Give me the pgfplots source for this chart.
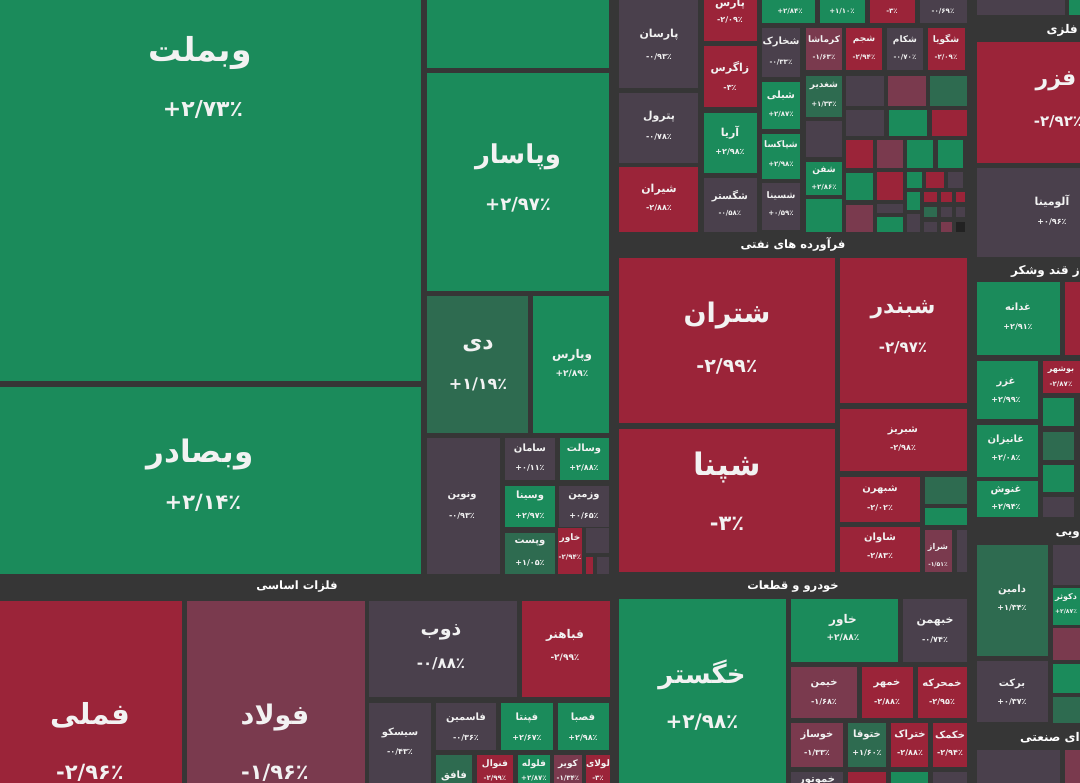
\documentclass[border=0pt]{standalone}
\usepackage{pgfplots}
\pgfplotsset{compat=1.18}
\usepackage{fontspec}
\TeXXeTstate=1
\newfontfamily\arabicfont[Script=Arabic]{DejaVu Sans}
\newfontfamily\latfont{DejaVu Sans}
\definecolor{bg}{HTML}{363636}
\definecolor{G}{HTML}{1B8B5B}
\definecolor{DG}{HTML}{2E6B50}
\definecolor{R}{HTML}{9B2439}
\definecolor{M}{HTML}{7A3A4E}
\definecolor{Gy}{HTML}{4A404C}
\definecolor{K}{HTML}{222222}
\definecolor{txt}{HTML}{F2F2F2}
\newcommand{\tile}[5]{\addplot[draw=none, fill=#5] coordinates {(#1,#2) (#3,#2) (#3,#4) (#1,#4)} -- cycle;}
\newcommand{\nm}[4]{\node[inner sep=0pt, text=txt, font=\arabicfont\bfseries\fontsize{#3}{#3}\selectfont] at (axis cs:#1,#2) {#4};}
\newcommand{\pc}[5]{\node[inner sep=0pt, text=txt, font=\arabicfont\bfseries\fontsize{#3}{#3}\selectfont] at (axis cs:#1,#2) {{\latfont\bfseries #4}#5};}
\newcommand{\hdr}[3]{\node[inner sep=0pt, text=white, font=\arabicfont\bfseries\fontsize{11.5}{12}\selectfont] at (axis cs:#1,#2) {#3};}
\newcommand{\hdre}[3]{\node[anchor=east, inner sep=0pt, text=white, font=\arabicfont\bfseries\fontsize{12}{12}\selectfont] at (axis cs:#1,#2) {#3};}
\begin{document}
\begin{tikzpicture}
\begin{axis}[width=1080pt, height=783pt, scale only axis, xmin=0, xmax=1080, ymin=0, ymax=783, y dir=reverse, hide axis, clip=true, no markers]
\coordinate (SW) at (axis cs:0,783);
\coordinate (NE) at (axis cs:1080,0);
\tile{0}{0}{1080}{783}{bg}
% left banks
\tile{0}{0}{421}{381}{G}
\tile{0}{387}{421}{574}{G}
% basic metals
\tile{0}{601}{182}{783}{R}
\tile{187}{601}{365}{783}{M}
\tile{369}{601}{517}{697}{Gy}
\tile{522}{601}{610}{697}{R}
\tile{369}{703}{431}{783}{Gy}
\tile{436}{703}{496}{750}{Gy}
\tile{501}{703}{553}{750}{G}
\tile{558}{703}{609}{750}{G}
\tile{436}{755}{472}{783}{DG}
\tile{477}{755}{513}{783}{R}
\tile{518}{755}{550}{783}{G}
\tile{554}{755}{582}{783}{M}
\tile{586}{755}{610}{783}{R}
% column 2
\tile{427}{0}{609}{68}{G}
\tile{427}{73}{609}{291}{G}
\tile{427}{296}{528}{433}{DG}
\tile{533}{296}{609}{433}{G}
\tile{427}{438}{500}{574}{Gy}
\tile{505}{438}{555}{480}{Gy}
\tile{560}{438}{609}{480}{G}
\tile{505}{486}{555}{527}{G}
\tile{559}{486}{609}{527}{Gy}
\tile{505}{533}{555}{574}{DG}
\tile{558}{528}{582}{574}{R}
\tile{586}{528}{609}{553}{Gy}
\tile{586}{557}{593}{574}{R}
\tile{597}{557}{609}{574}{Gy}
% column 3 top
\tile{619}{0}{698}{88}{Gy}
\tile{619}{93}{698}{163}{Gy}
\tile{619}{167}{698}{232}{R}
\tile{704}{0}{757}{41}{R}
\tile{704}{46}{757}{107}{R}
\tile{704}{113}{757}{173}{G}
\tile{704}{178}{757}{232}{Gy}
\tile{762}{0}{815}{23}{G}
\tile{762}{28}{800}{77}{Gy}
\tile{762}{82}{800}{129}{G}
\tile{762}{134}{800}{179}{G}
\tile{762}{183}{800}{230}{Gy}
\tile{820}{0}{865}{23}{G}
\tile{870}{0}{915}{23}{R}
\tile{920}{0}{967}{23}{Gy}
\tile{806}{28}{842}{70}{M}
\tile{846}{28}{882}{70}{R}
\tile{887}{28}{923}{70}{Gy}
\tile{928}{28}{965}{70}{R}
\tile{806}{76}{842}{117}{DG}
\tile{806}{121}{842}{157}{Gy}
\tile{806}{162}{842}{195}{G}
\tile{806}{199}{842}{232}{G}
\tile{846}{76}{884}{106}{Gy}
\tile{888}{76}{926}{106}{M}
\tile{930}{76}{967}{106}{DG}
\tile{846}{110}{884}{136}{Gy}
\tile{889}{110}{927}{136}{G}
\tile{932}{110}{967}{136}{R}
\tile{846}{140}{873}{168}{R}
\tile{877}{140}{903}{168}{M}
\tile{907}{140}{933}{168}{G}
\tile{938}{140}{963}{168}{G}
\tile{846}{173}{873}{200}{G}
\tile{877}{172}{903}{200}{R}
\tile{907}{172}{922}{188}{G}
\tile{926}{172}{944}{188}{R}
\tile{948}{172}{963}{188}{Gy}
\tile{846}{205}{873}{232}{M}
\tile{877}{204}{903}{213}{Gy}
\tile{877}{217}{903}{232}{G}
\tile{907}{192}{920}{210}{G}
\tile{924}{192}{937}{202}{R}
\tile{941}{192}{952}{202}{R}
\tile{956}{192}{965}{202}{R}
\tile{907}{214}{920}{232}{Gy}
\tile{924}{207}{937}{217}{DG}
\tile{941}{207}{952}{217}{Gy}
\tile{956}{207}{965}{217}{Gy}
\tile{924}{222}{937}{232}{Gy}
\tile{941}{222}{952}{232}{M}
\tile{956}{222}{965}{232}{K}
% petroleum products
\tile{619}{258}{835}{423}{R}
\tile{619}{429}{835}{572}{R}
\tile{840}{258}{967}{403}{R}
\tile{840}{409}{967}{471}{R}
\tile{840}{477}{920}{522}{R}
\tile{840}{527}{920}{572}{R}
\tile{925}{477}{967}{504}{DG}
\tile{925}{508}{967}{525}{G}
\tile{925}{530}{952}{572}{M}
\tile{957}{530}{967}{572}{Gy}
% automotive
\tile{619}{599}{786}{783}{G}
\tile{791}{599}{898}{662}{G}
\tile{903}{599}{967}{662}{Gy}
\tile{791}{667}{857}{718}{M}
\tile{862}{667}{913}{718}{R}
\tile{918}{667}{967}{718}{R}
\tile{791}{723}{843}{767}{M}
\tile{848}{723}{886}{767}{DG}
\tile{891}{723}{928}{767}{R}
\tile{933}{723}{967}{767}{R}
\tile{791}{772}{843}{783}{Gy}
\tile{848}{772}{886}{783}{R}
\tile{891}{772}{928}{783}{G}
\tile{933}{772}{967}{783}{Gy}
% right column
\tile{977}{0}{1065}{15}{Gy}
\tile{1069}{0}{1080}{15}{G}
\tile{977}{42}{1080}{163}{R}
\tile{977}{168}{1080}{257}{Gy}
\tile{977}{282}{1060}{355}{G}
\tile{1065}{282}{1080}{355}{R}
\tile{977}{361}{1038}{419}{G}
\tile{1043}{361}{1080}{393}{R}
\tile{1043}{398}{1074}{426}{G}
\tile{977}{425}{1038}{477}{G}
\tile{1043}{432}{1074}{460}{DG}
\tile{1043}{465}{1074}{492}{G}
\tile{977}{481}{1038}{517}{G}
\tile{1043}{497}{1074}{517}{Gy}
\tile{977}{545}{1048}{656}{DG}
\tile{1053}{545}{1080}{585}{Gy}
\tile{1053}{588}{1080}{625}{G}
\tile{1053}{628}{1080}{660}{M}
\tile{977}{661}{1048}{722}{Gy}
\tile{1053}{664}{1080}{693}{G}
\tile{1053}{697}{1080}{723}{DG}
\tile{977}{750}{1060}{783}{Gy}
\tile{1065}{750}{1080}{783}{M}
% ---------- headers
\hdr{297}{587}{\beginR فلزات اساسی\endR}
\hdr{793}{244}{\beginR فرآورده های نفتی\endR}
\hdr{793}{587}{\beginR خودرو و قطعات\endR}
\hdre{1078}{30}{\beginR فلزی\endR}
\hdre{1080}{271}{\beginR ز قند وشکر\endR}
\hdre{1080}{535}{\beginR ویی\endR}
\hdre{1080}{738}{\beginR ای صنعتی\endR}
% ---------- labels
\nm{200}{53}{33}{وبملت} \pc{203}{110}{22}{+}{۲/۷۳٪}
\nm{200}{455}{31}{وبصادر} \pc{203}{503}{21}{+}{۲/۱۴٪}
\nm{518}{157}{26}{وپاسار} \pc{518}{205}{18}{+}{۲/۹۷٪}
\nm{478}{346}{22}{دی} \pc{478}{384}{16}{+}{۱/۱۹٪}
\nm{572}{355}{12}{وپارس} \pc{572}{374}{9}{+}{۲/۸۹٪}
\nm{530}{449}{10}{سامان} \pc{530}{468}{8}{+}{۰/۱۱٪}
\nm{584}{449}{10}{وسالت} \pc{584}{468}{8}{+}{۲/۸۸٪}
\nm{530}{496}{10}{وسینا} \pc{530}{516}{8}{+}{۲/۹۷٪}
\nm{584}{496}{10}{وزمین} \pc{584}{516}{8}{+}{۰/۶۵٪}
\nm{462}{496}{10}{ونوین} \pc{462}{516}{8}{-}{۰/۹۳٪}
\nm{530}{543}{10}{وپست} \pc{530}{563}{8}{+}{۱/۰۵٪}
\nm{570}{538}{9}{خاور} \pc{570}{557}{7}{-}{۲/۹۴٪}
\nm{90}{715}{29}{فملی} \pc{90}{773}{21}{-}{۲/۹۶٪}
\nm{275}{718}{27}{فولاد} \pc{275}{773}{21}{-}{۱/۹۶٪}
\nm{441}{632}{19}{ذوب} \pc{441}{664}{15}{-}{۰/۸۸٪}
\nm{565}{635}{12}{فباهنر} \pc{565}{658}{9}{-}{۲/۹۹٪}
\nm{400}{733}{10}{سیسکو} \pc{400}{752}{8}{-}{۰/۴۳٪}
\nm{466}{718}{10}{فاسمین} \pc{466}{738}{8}{-}{۰/۳۶٪}
\nm{527}{718}{10}{فپنتا} \pc{527}{738}{8}{+}{۲/۶۷٪}
\nm{583}{718}{10}{فصبا} \pc{583}{738}{8}{+}{۲/۹۸٪}
\nm{454}{776}{10}{فافق}
\nm{495}{764}{9}{فنوال} \pc{495}{778}{7}{-}{۲/۹۹٪}
\nm{534}{764}{9}{فلوله} \pc{534}{778}{7}{+}{۲/۸۷٪}
\nm{568}{764}{9}{کویر} \pc{568}{778}{7}{-}{۱/۳۴٪}
\nm{598}{764}{9}{لولای} \pc{598}{778}{7}{-}{۳٪}
% column 3
\nm{659}{35}{11}{پارسان} \pc{659}{57}{8}{-}{۰/۹۳٪}
\nm{659}{117}{11}{پترول} \pc{659}{137}{8}{-}{۰/۷۸٪}
\nm{659}{190}{11}{شیران} \pc{659}{208}{8}{-}{۲/۸۸٪}
\nm{730}{4}{11}{پارس} \pc{730}{20}{8}{-}{۲/۰۹٪}
\nm{730}{68}{11}{زاگرس} \pc{730}{88}{8}{-}{۳٪}
\nm{730}{133}{11}{آریا} \pc{730}{152}{8}{+}{۲/۹۸٪}
\nm{730}{196}{10}{شگستر} \pc{730}{213}{7}{-}{۰/۵۸٪}
\pc{790}{11}{7}{+}{۲/۸۴٪}
\nm{781}{42}{10}{شخارک} \pc{781}{62}{7}{-}{۰/۳۳٪}
\nm{781}{96}{10}{شبلی} \pc{781}{114}{7}{+}{۲/۸۷٪}
\nm{781}{145}{9}{شپاکسا} \pc{781}{164}{7}{+}{۲/۹۸٪}
\nm{781}{196}{9}{شسینا} \pc{781}{213}{7}{+}{۰/۵۹٪}
\pc{842}{11}{7}{+}{۱/۱۰٪}
\pc{892}{11}{7}{-}{۳٪}
\pc{943}{11}{7}{-}{۰/۶۹٪}
\nm{824}{40}{9}{کرماشا} \pc{824}{57}{7}{-}{۱/۶۳٪}
\nm{864}{40}{9}{شجم} \pc{864}{57}{7}{-}{۲/۹۴٪}
\nm{905}{40}{9}{شکام} \pc{905}{57}{7}{-}{۰/۷۰٪}
\nm{946}{40}{9}{شگویا} \pc{946}{57}{7}{-}{۲/۰۹٪}
\nm{824}{86}{9}{شغدیر} \pc{824}{104}{7}{+}{۱/۳۳٪}
\nm{824}{171}{9}{شفن} \pc{824}{187}{7}{+}{۲/۸۶٪}
% petroleum
\nm{727}{316}{27}{شتران} \pc{727}{366}{19}{-}{۲/۹۹٪}
\nm{727}{468}{31}{شپنا} \pc{727}{524}{21}{-}{۳٪}
\nm{903}{310}{22}{شبندر} \pc{903}{348}{15}{-}{۲/۹۷٪}
\nm{903}{431}{10}{شبریز} \pc{903}{448}{8}{-}{۲/۹۸٪}
\nm{880}{490}{10}{شبهرن} \pc{880}{508}{8}{-}{۲/۰۲٪}
\nm{880}{538}{10}{شاوان} \pc{880}{556}{8}{-}{۲/۸۳٪}
\nm{938}{547}{8}{شراز} \pc{938}{565}{6}{-}{۱/۵۱٪}
% automotive
\nm{702}{675}{26}{خگستر} \pc{702}{722}{20}{+}{۲/۹۸٪}
\nm{843}{620}{12}{خاور} \pc{843}{638}{9}{+}{۲/۸۸٪}
\nm{935}{622}{11}{خبهمن} \pc{935}{640}{8}{-}{۰/۷۴٪}
\nm{824}{684}{10}{خیمن} \pc{824}{702}{8}{-}{۱/۶۸٪}
\nm{887}{684}{10}{خمهر} \pc{887}{702}{8}{-}{۲/۸۸٪}
\nm{942}{684}{10}{خمحرکه} \pc{942}{702}{8}{-}{۲/۹۵٪}
\nm{817}{735}{10}{خوساز} \pc{817}{753}{8}{-}{۱/۳۳٪}
\nm{867}{735}{10}{ختوقا} \pc{867}{753}{8}{+}{۱/۶۰٪}
\nm{910}{735}{10}{ختراک} \pc{910}{753}{8}{-}{۲/۸۸٪}
\nm{950}{735}{10}{خکمک} \pc{950}{753}{8}{-}{۲/۹۴٪}
\nm{817}{781}{10}{خموتور}
% right
\nm{1056}{81}{22}{فزر} \pc{1058}{122}{15}{-}{۲/۹۲٪}
\nm{1052}{202}{11}{آلومینا} \pc{1052}{222}{8}{+}{۰/۹۶٪}
\nm{1018}{307}{10}{غدانه} \pc{1018}{327}{8}{+}{۲/۹۱٪}
\nm{1006}{382}{10}{غزر} \pc{1006}{400}{8}{+}{۲/۹۹٪}
\nm{1006}{440}{10}{غانیزان} \pc{1006}{458}{8}{+}{۲/۰۸٪}
\nm{1006}{490}{10}{غنوش} \pc{1006}{507}{8}{+}{۲/۹۴٪}
\nm{1061}{370}{8}{بوشهر} \pc{1061}{384}{7}{-}{۲/۸۷٪}
\nm{1012}{590}{10}{دامین} \pc{1012}{608}{8}{+}{۱/۳۴٪}
\nm{1066}{597}{8}{دکوثر} \pc{1066}{612}{6}{+}{۲/۸۷٪}
\nm{1012}{684}{10}{برکت} \pc{1012}{702}{8}{+}{۰/۳۷٪}
\end{axis}
\pgfresetboundingbox
\path[use as bounding box] (SW) rectangle (NE);
\end{tikzpicture}
\end{document}
